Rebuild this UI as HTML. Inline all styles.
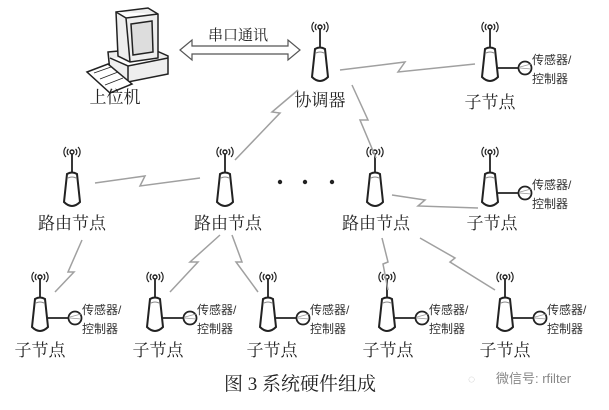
<!DOCTYPE html>
<html><head><meta charset="utf-8"><style>
html,body{margin:0;padding:0;background:#fff;}
svg{display:block;}
.t{font-family:"Liberation Serif","Noto Serif CJK SC",serif;fill:#222;}
.s{font-family:"Liberation Sans","Noto Sans CJK SC",sans-serif;fill:#333;font-size:12px;}
.z{fill:none;stroke:#a0a0a0;stroke-width:1.5;}
</style></head><body>
<svg width="609" height="410" viewBox="0 0 609 410" xmlns="http://www.w3.org/2000/svg">
<defs>
<g id="n">
 <path d="M-6,-25 a7,7 0 0 0 0,10 M6,-25 a7,7 0 0 1 0,10 M-3.5,-23 a4,4 0 0 0 0,6 M3.5,-23 a4,4 0 0 1 0,6" fill="none" stroke="#222" stroke-width="1.2"/>
 <circle cx="0" cy="-20" r="2" fill="none" stroke="#222" stroke-width="1.4"/>
 <line x1="0" y1="-18" x2="0" y2="1" stroke="#222" stroke-width="1.8"/>
 <path d="M-5,2 Q0,-1 5,2 L8,30 Q0,38 -8,30 Z" fill="#fff" stroke="#222" stroke-width="2"/>
 <path d="M-4,6 Q0,4 4,6" stroke="#888" stroke-width="1" fill="none"/>
</g>
<g id="c">
 <use href="#n"/>
 <line x1="8" y1="21" x2="28" y2="21" stroke="#222" stroke-width="1.8"/>
 <circle cx="35" cy="21" r="6.5" fill="#fff" stroke="#222" stroke-width="1.8"/>
 <path d="M30,20 L41,17 M30,21 L41,22" stroke="#999" stroke-width="0.8"/>
 <text class="s" x="42" y="17">传感器/</text>
 <text class="s" x="42" y="36">控制器</text>
</g>
</defs>

<!-- computer -->
<g stroke="#222" stroke-width="1.5" fill="#fff">
 <path d="M108,52 L150,48 L168,56 L168,74 L128,82 L110,72 Z" fill="#eee"/>
 <path d="M110,58 L128,66 L168,58 M128,66 L128,82"/>
 <path d="M116,12 L148,8 L158,14 L158,58 L130,62 L118,56 Z" fill="#eee"/>
 <path d="M116,12 L126,18 L158,14 M126,18 L130,62"/>
 <path d="M131,24 L152,21 L153,52 L133,55 Z" fill="#ddd"/>
 <path d="M87,72 L108,64 L132,84 L110,93 Z"/>
 <path d="M94,73 L111,67 M100,79 L118,72 M105,85 L123,78" stroke-width="0.8"/>
</g>
<text class="t" x="115" y="103" font-size="17" text-anchor="middle">上位机</text>

<!-- double arrow -->
<path d="M180,50 L192,40 L192,46 L288,46 L288,40 L300,50 L288,60 L288,54 L192,54 L192,60 Z" fill="#fff" stroke="#555" stroke-width="1.2"/>
<text class="t" x="238" y="40" font-size="15" text-anchor="middle">串口通讯</text>

<!-- nodes -->
<use href="#n" x="320" y="47"/>
<text class="t" x="320" y="106" font-size="17" text-anchor="middle">协调器</text>
<use href="#c" x="490" y="47"/>
<text class="t" x="490" y="108" font-size="17" text-anchor="middle">子节点</text>

<use href="#n" x="72" y="172"/>
<use href="#n" x="225" y="172"/>
<use href="#n" x="375" y="172"/>
<use href="#c" x="490" y="172"/>
<text class="t" x="72" y="229" font-size="17" text-anchor="middle">路由节点</text>
<text class="t" x="228" y="229" font-size="17" text-anchor="middle">路由节点</text>
<text class="t" x="376" y="229" font-size="17" text-anchor="middle">路由节点</text>
<text class="t" x="492" y="229" font-size="17" text-anchor="middle">子节点</text>
<circle cx="280" cy="182" r="2.2" fill="#222"/><circle cx="305" cy="182" r="2.2" fill="#222"/><circle cx="332" cy="182" r="2.2" fill="#222"/>

<use href="#c" x="40" y="297"/>
<use href="#c" x="155" y="297"/>
<use href="#c" x="268" y="297"/>
<use href="#c" x="387" y="297"/>
<use href="#c" x="505" y="297"/>
<g class="t" font-size="17" text-anchor="middle">
<text x="40" y="356">子节点</text><text x="158" y="356">子节点</text><text x="272" y="356">子节点</text>
<text x="388" y="356">子节点</text><text x="505" y="356">子节点</text>
</g>

<!-- lightning links -->
<g class="z">
<polyline points="340,70 405,62 398,72 475,64"/>
<polyline points="298,90 272,112 280,113 235,160"/>
<polyline points="352,85 368,120 360,120 376,158"/>
<polyline points="95,183 145,176 140,186 200,178"/>
<polyline points="392,195 425,200 418,206 478,208"/>
<polyline points="82,240 68,272 74,272 55,292"/>
<polyline points="220,235 190,262 198,262 170,292"/>
<polyline points="232,235 242,262 236,262 258,292"/>
<polyline points="382,238 388,262 383,264 388,290"/>
<polyline points="420,238 455,258 450,262 495,290"/>
</g>

<text class="t" x="300" y="390" font-size="19" text-anchor="middle">图 3  系统硬件组成</text>
<text x="468" y="383" font-size="12" fill="#bbb" font-family="Liberation Sans,sans-serif">◌</text>
<text x="496" y="383" font-size="13" fill="#888" font-family="Liberation Sans,Noto Sans CJK SC,sans-serif">微信号: rfilter</text>
</svg>
</body></html>
